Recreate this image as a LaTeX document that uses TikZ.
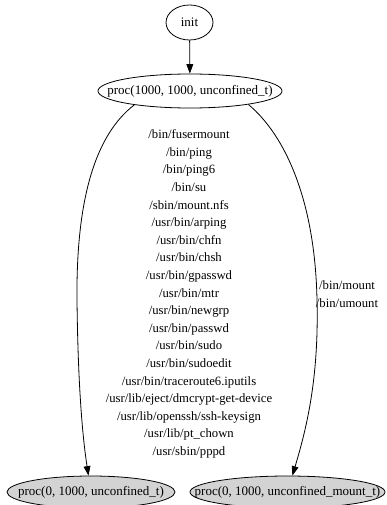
\documentclass[tikz,border=0pt]{standalone}
\usepackage{fontspec}
\setmainfont{Liberation Serif}
\usetikzlibrary{shapes.geometric,arrows.meta}
\definecolor{lgrey}{HTML}{D3D3D3}
\tikzset{
  gnode/.style={draw, ellipse, inner xsep=-40pt, inner ysep=-10pt, line width=0.8pt, font=\fontsize{13}{15.6}\selectfont},
  leaf/.style={gnode, fill=lgrey},
  edge/.style={draw, line width=0.8pt, -{Triangle[length=9.5pt,width=6.8pt]}},
  elabel/.style={align=center, inner sep=0pt, font=\fontsize{12.7}{17.6}\selectfont}
}
\begin{document}
\begin{tikzpicture}[x=1pt,y=-1pt]
\useasboundingbox (0,0) rectangle (387,505);
\node[gnode, minimum width=47pt, minimum height=35pt] (init) at (189.5,22.5) {init};
\node[gnode, minimum width=184pt, minimum height=34pt] (p1) at (190,91) {proc(1000, 1000, unconfined\_t)};
\node[leaf, minimum width=168pt, minimum height=32pt] (p2) at (91,492) {proc(0, 1000, unconfined\_t)};
\node[leaf, minimum width=195pt, minimum height=32pt] (p3) at (287.5,492) {proc(0, 1000, unconfined\_mount\_t)};
\coordinate (lm) at (77,300);
\coordinate (rm) at (317,300);
\draw[edge] (init) -- (p1);
\draw[edge] (p1.194) .. controls (95,135) and (76,200) .. (lm) .. controls (78,390) and (83,440) .. (p2);
\draw[edge] (p1.347) .. controls (285,135) and (315,200) .. (rm) .. controls (319,380) and (306,430) .. (p3);
\node[elabel] (l1) at (189,294) {/bin/fusermount\\/bin/ping\\/bin/ping6\\/bin/su\\/sbin/mount.nfs\\/usr/bin/arping\\/usr/bin/chfn\\/usr/bin/chsh\\/usr/bin/gpasswd\\/usr/bin/mtr\\/usr/bin/newgrp\\/usr/bin/passwd\\/usr/bin/sudo\\/usr/bin/sudoedit\\/usr/bin/traceroute6.iputils\\/usr/lib/eject/dmcrypt-get-device\\/usr/lib/openssh/ssh-keysign\\/usr/lib/pt\_chown\\/usr/sbin/pppd};
\node[elabel] (l2) at (347,294) {/bin/mount\\/bin/umount};
\end{tikzpicture}
\end{document}
